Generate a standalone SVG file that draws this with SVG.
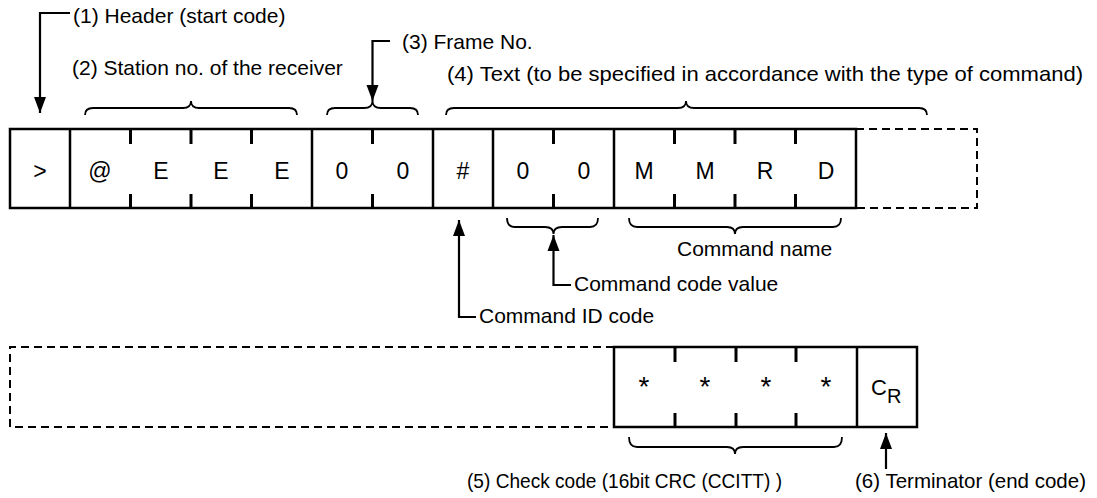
<svg xmlns="http://www.w3.org/2000/svg" width="1097" height="498" viewBox="0 0 1097 498">
<style>
  text { font-family: "Liberation Sans", Arial, sans-serif; fill: #000; }
  .lbl { font-size: 21px; }
  .cell { font-size: 23px; text-anchor: middle; }
  .star { font-size: 28px; text-anchor: middle; }
  .nar { font-size: 21px; }
  .box { fill: none; stroke: #000; stroke-width: 2.5; }
  .div { stroke: #000; stroke-width: 2.5; }
  .tick { stroke: #000; stroke-width: 3; }
  .dash { fill: none; stroke: #000; stroke-width: 2; stroke-dasharray: 8 5; }
  .brace { fill: none; stroke: #000; stroke-width: 1.8; }
  .arr { fill: none; stroke: #000; stroke-width: 2.2; }
</style>
<defs>
  <marker id="ah" viewBox="0 0 16 12" refX="16" refY="6" markerWidth="16" markerHeight="13" markerUnits="userSpaceOnUse" orient="auto">
    <path d="M0,0 L16,6 L0,12 z" fill="#000"/>
  </marker>
</defs>

<g id="frame-top">
  <path class="dash" d="M856,129 H977 V208 H856"/>
  <rect class="box" x="10" y="129" width="846" height="79"/>
  <g class="div">
    <line x1="70" y1="129" x2="70" y2="208"/>
    <line x1="312" y1="129" x2="312" y2="208"/>
    <line x1="433" y1="129" x2="433" y2="208"/>
    <line x1="493" y1="129" x2="493" y2="208"/>
    <line x1="614" y1="129" x2="614" y2="208"/>
  </g>
  <g class="tick">
    <line x1="130.5" y1="129" x2="130.5" y2="144"/><line x1="130.5" y1="194" x2="130.5" y2="208"/>
    <line x1="191" y1="129" x2="191" y2="144"/><line x1="191" y1="194" x2="191" y2="208"/>
    <line x1="251.5" y1="129" x2="251.5" y2="144"/><line x1="251.5" y1="194" x2="251.5" y2="208"/>
    <line x1="372.5" y1="129" x2="372.5" y2="144"/><line x1="372.5" y1="194" x2="372.5" y2="208"/>
    <line x1="553.5" y1="129" x2="553.5" y2="144"/><line x1="553.5" y1="194" x2="553.5" y2="208"/>
    <line x1="674.5" y1="129" x2="674.5" y2="144"/><line x1="674.5" y1="194" x2="674.5" y2="208"/>
    <line x1="735" y1="129" x2="735" y2="144"/><line x1="735" y1="194" x2="735" y2="208"/>
    <line x1="795.5" y1="129" x2="795.5" y2="144"/><line x1="795.5" y1="194" x2="795.5" y2="208"/>
  </g>
</g>
<g id="cells-top">
  <text class="cell" x="40" y="179">&gt;</text>
  <text class="cell" x="100" y="179">@</text>
  <text class="cell" x="161" y="179">E</text>
  <text class="cell" x="221" y="179">E</text>
  <text class="cell" x="282" y="179">E</text>
  <text class="cell" x="342" y="179">0</text>
  <text class="cell" x="403" y="179">0</text>
  <text class="cell" x="463" y="179">#</text>
  <text class="cell" x="523" y="179">0</text>
  <text class="cell" x="584" y="179">0</text>
  <text class="cell" x="644" y="179">M</text>
  <text class="cell" x="705" y="179">M</text>
  <text class="cell" x="765" y="179">R</text>
  <text class="cell" x="826" y="179">D</text>
</g>

<g id="frame-bottom">
  <path class="dash" d="M614,347 H10 V427 H614"/>
  <rect class="box" x="614" y="347" width="303" height="80"/>
  <line class="div" x1="857" y1="347" x2="857" y2="427"/>
  <g class="tick">
    <line x1="675" y1="347" x2="675" y2="362"/><line x1="675" y1="413" x2="675" y2="427"/>
    <line x1="736" y1="347" x2="736" y2="362"/><line x1="736" y1="413" x2="736" y2="427"/>
    <line x1="796" y1="347" x2="796" y2="362"/><line x1="796" y1="413" x2="796" y2="427"/>
  </g>
</g>
<g id="cells-bottom">
  <text class="star" x="644" y="396">*</text>
  <text class="star" x="705" y="396">*</text>
  <text class="star" x="766" y="396">*</text>
  <text class="star" x="826" y="396">*</text>
  <text x="871" y="395" font-size="22">C<tspan font-size="20" dy="8">R</tspan></text>
</g>

<g id="connectors">
  <path class="brace" d="M85,115 Q85,108 93,108 L183,108 Q191,108 191,101 Q191,108 199,108 L289,108 Q297,108 297,115"/>
  <path class="brace" d="M327,115 Q327,108 335,108 L364,108 Q372.5,108 372.5,101 Q372.5,108 381,108 L410,108 Q418,108 418,115"/>
  <path class="brace" d="M446,115 Q446,108 454,108 L678,108 Q686,108 686,101 Q686,108 694,108 L919,108 Q927,108 927,115"/>
  <path class="brace" d="M507,218 Q507,227 515,227 L545,227 Q553.5,227 553.5,234 Q553.5,227 562,227 L590,227 Q598,227 598,218"/>
  <path class="brace" d="M629,218 Q629,227 637,227 L727,227 Q735,227 735,234 Q735,227 743,227 L833,227 Q841,227 841,218"/>
  <path class="brace" d="M629,437 Q629,447 637,447 L727,447 Q735,447 735,454 Q735,447 743,447 L834,447 Q842,447 842,437"/>
  <path class="arr" d="M70,13 H40 V113" marker-end="url(#ah)"/>
  <path class="arr" d="M390,41 H372.5 V101" marker-end="url(#ah)"/>
  <path class="arr" d="M571,285 H553.5 V235" marker-end="url(#ah)"/>
  <path class="arr" d="M476,317 H459 V220" marker-end="url(#ah)"/>
  <path class="arr" d="M886,469 V433" marker-end="url(#ah)"/>
</g>

<g id="labels">
  <text class="lbl" x="73" y="23">(1) Header (start code)</text>
  <text class="lbl" x="72" y="75">(2) Station no. of the receiver</text>
  <text class="lbl" x="402" y="49">(3) Frame No.</text>
  <text class="lbl" x="447" y="81" textLength="636" lengthAdjust="spacingAndGlyphs">(4) Text (to be specified in accordance with the type of command)</text>
  <text class="lbl" x="677" y="256">Command name</text>
  <text class="lbl" x="574" y="291">Command code value</text>
  <text class="lbl" x="479" y="323">Command ID code</text>
  <text class="nar" x="467" y="488" textLength="315" lengthAdjust="spacingAndGlyphs">(5) Check code (16bit CRC (CCITT) )</text>
  <text class="nar" x="855" y="488" textLength="231" lengthAdjust="spacingAndGlyphs">(6) Terminator (end code)</text>
</g>
</svg>
